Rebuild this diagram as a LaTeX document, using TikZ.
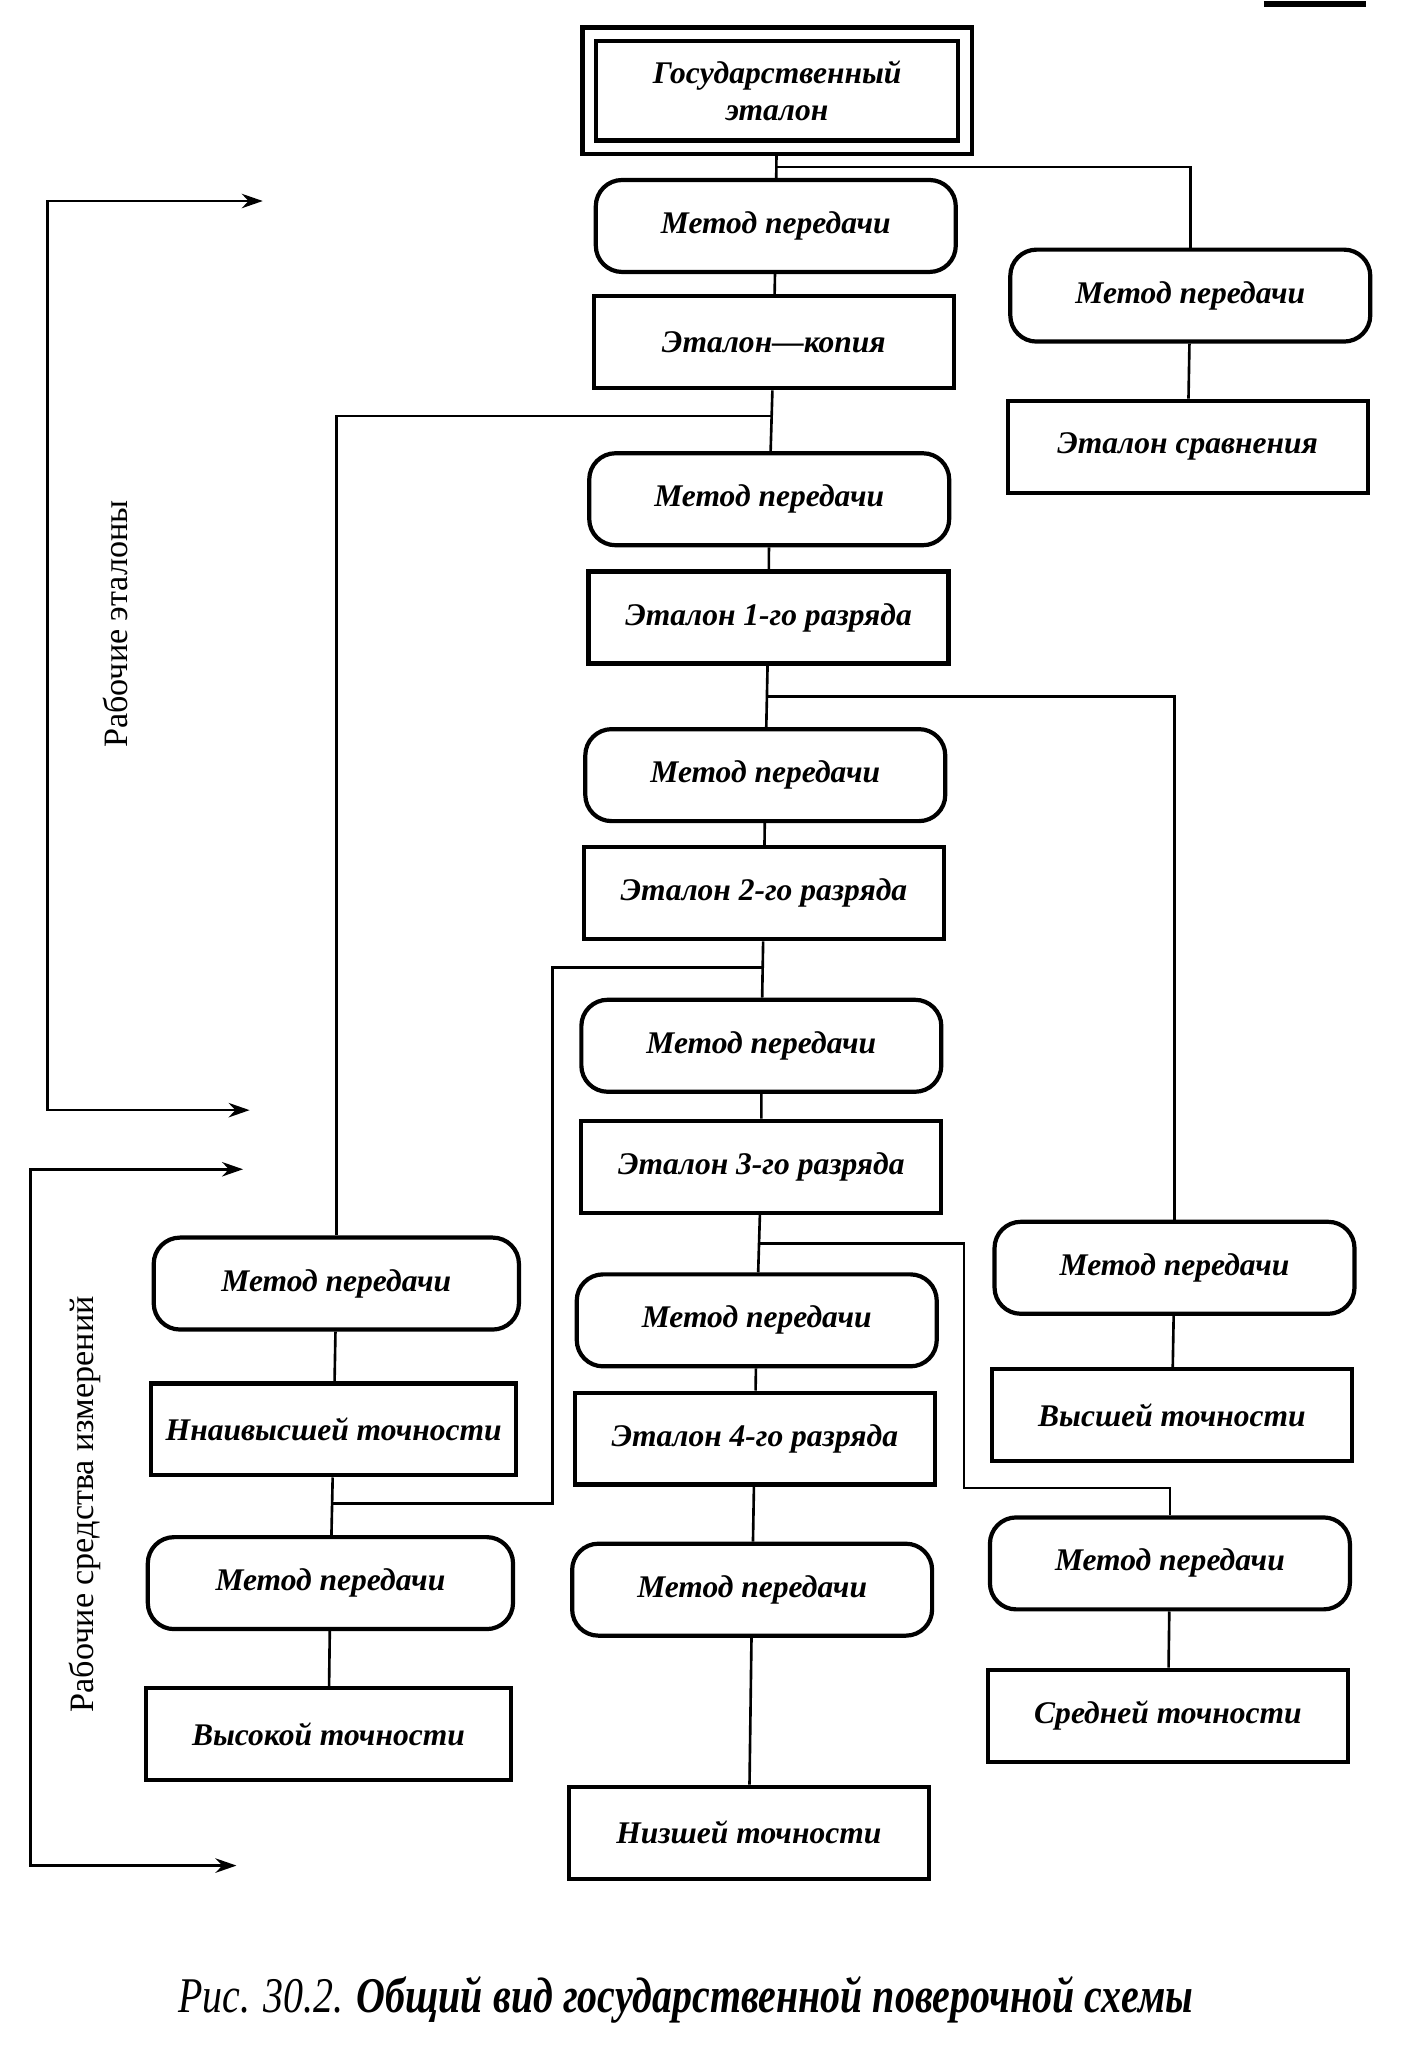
\documentclass[tikz,border=0pt]{standalone}
\usepackage{fontspec}
\setmainfont{Liberation Serif}
\usetikzlibrary{arrows.meta, calc}

\begin{document}
\begin{tikzpicture}[x=0.5pt, y=-0.5pt]
	\tikzset{>={Stealth[length=8pt, width=5.5pt]},
		every node/.style={font=\bfseries\itshape\fontsize{12}{14}\selectfont, align=center},
		etalon/.style={draw, line width=1.6pt, minimum width=137pt, minimum height=35pt, inner sep=0pt},
		metod/.style={etalon, rounded corners=10pt},
		link/.style={line width=1pt},
		side/.style={font=\fontsize{13}{15}\selectfont, rotate=90}}

	\useasboundingbox (0,0) rectangle (1076,1568);

	% centre column
	\node[etalon, double, double distance=3.5pt, minimum width=143pt, minimum height=43pt, outer sep=3.4pt] (gos) at (591.5,69) {Государственный\\эталон};
	\node[metod] (m1) at (590.5,172) {Метод передачи};
	\node[etalon] (e1) at (589,260.5) {Эталон—копия};
	\node[metod] (m2) at (585.5,380) {Метод передачи};
	\node[etalon] (e2) at (585,470) {Эталон 1-го разряда};
	\node[metod] (m3) at (582.5,590) {Метод передачи};
	\node[etalon] (e3) at (581.5,680) {Эталон 2-го разряда};
	\node[metod] (m4) at (579.5,796) {Метод передачи};
	\node[etalon] (e4) at (579.5,888) {Эталон 3-го разряда};
	\node[metod] (m5) at (576,1005) {Метод передачи};
	\node[etalon] (e5) at (574.5,1095) {Эталон 4-го разряда};
	\node[metod] (m6) at (572.5,1210) {Метод передачи};
	\node[etalon] (e6) at (570,1395) {Низшей точности};

	% left column
	\node[metod, minimum width=139pt] (mL1) at (256,977) {Метод передачи};
	\node[etalon, minimum width=139pt] (eL1) at (254,1088) {Ннаивысшей точности};
	\node[metod, minimum width=139pt] (mL2) at (251.5,1205) {Метод передачи};
	\node[etalon, minimum width=139pt] (eL2) at (250,1320) {Высокой точности};

	% right column
	\node[metod] (mR1) at (906,225) {Метод передачи};
	\node[etalon] (eR1) at (904,340) {Эталон сравнения};
	\node[metod] (mR2) at (894,965) {Метод передачи};
	\node[etalon] (eR2) at (892,1077) {Высшей точности};
	\node[metod] (mR3) at (890.5,1190) {Метод передачи};
	\node[etalon] (eR3) at (889,1306) {Средней точности};

	\draw[link] (gos) -- (m1) (m1) -- (e1) (e1) -- (m2) (m2) -- (e2) (e2) -- (m3) (m3) -- (e3)
		(e3) -- (m4) (m4) -- (e4) (e4) -- (m5) (m5) -- (e5) (e5) -- (m6) (m6) -- (e6)
		(mL1) -- (eL1) (eL1) -- (mL2) (mL2) -- (eL2)
		(mR1) -- (eR1) (mR2) -- (eR2) (mR3) -- (eR3);

	% branches
	\coordinate (j1) at ($(gos.south)!0.5!(m1.north)$);
	\coordinate (j2) at ($(e1.south)!0.42!(m2.north)$);
	\coordinate (j3) at ($(e2.south)!0.5!(m3.north)$);
	\coordinate (j4) at ($(e3.south)!0.46!(m4.north)$);
	\coordinate (j5) at ($(e4.south)!0.5!(m5.north)$);
	\coordinate (j6) at ($(eL1.south)!0.45!(mL2.north)$);
	\draw[link] (j1) -| (mR1);
	\draw[link] (j2) -| (mL1);
	\draw[link] (j3) -| (mR2);
	\draw[link] (j4) -- ++(-160,0) |- (j6);
	\draw[link] (j5) -- ++(156,0) -- ++(0,186) -| (mR3);

	% groups
	\draw[link, <->] (200,153) -| (36,845) -- (190,845);
	\draw[link, <->] (185,890) -| (23,1420) -- (180,1420);
	\node[side] (lbl1) at (88,475) {Рабочие эталоны};
	\node[side] (lbl2) at (65,1145) {Рабочие средства измерений};

	\node[font=\fontsize{19}{21}\selectfont] (cap) at (522,1522) {\scalebox{0.8}[1]{\itshape Рис. 30.2. \bfseries Общий вид государственной поверочной схемы}};
	\draw[line width=2pt] (962,3) -- (1040,3);
\end{tikzpicture}
\end{document}
